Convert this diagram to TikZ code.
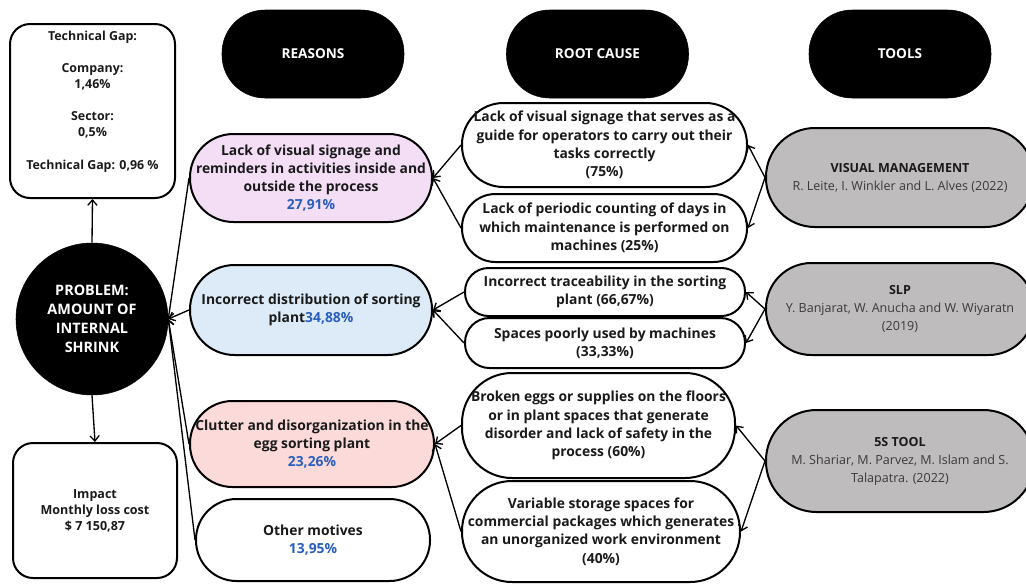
\documentclass[tikz,border=0pt]{standalone}
\usepackage{fontspec}
\setmainfont{Open Sans}
\usetikzlibrary{arrows.meta}
\definecolor{pinkA}{HTML}{F4DEF6}
\definecolor{blueA}{HTML}{DCEBF7}
\definecolor{redA}{HTML}{FCDADA}
\definecolor{grayA}{HTML}{BEBCBC}
\definecolor{pct}{HTML}{2A5EBE}
\definecolor{txt}{HTML}{1A1A1A}
\definecolor{cite}{HTML}{3A3A3A}
\newcommand{\pc}[1]{\textcolor{pct}{#1}}
\begin{document}
\begin{tikzpicture}[x=0.75pt,y=-0.75pt,
  base/.style={draw=black, line width=1.5pt, align=center, inner sep=0pt, text=txt},
  bodyfont/.style={font=\bfseries\fontsize{10.4}{13.7}\selectfont},
  head/.style={fill=black, draw=black, minimum width=182*0.75pt, minimum height=88*0.75pt, rounded corners=43*0.75pt, text=white, font=\bfseries\fontsize{10.2}{11}\selectfont},
  reason/.style={base, bodyfont},
  cause/.style={base, bodyfont},
  tool/.style={base, fill=grayA, font=\fontsize{9.4}{13.5}\selectfont, text=cite},
  conn/.style={line width=1pt, -{Straight Barb[length=4pt,width=7pt]}}]
\useasboundingbox (0,0) rectangle (1026,583);

% left column
\node[base, minimum width=165*0.75pt, minimum height=174*0.75pt, rounded corners=20*0.75pt] (gap) at (92.5,111) {};
\node[align=center, text=txt, font=\bfseries\fontsize{9.3}{12.1}\selectfont] (gaptext) at (92.5,101.5)
  {Technical Gap:\\[12.1pt]Company:\\1,46\%\\[12.1pt]Sector:\\0,5\%\\[12.1pt]Technical Gap: 0,96 \%};
\node[circle, fill=black, draw=black, minimum size=152*0.75pt, inner sep=0pt, align=center, text=white,
  font=\bfseries\fontsize{10.8}{14.3}\selectfont] (prob) at (92,319) {PROBLEM:\\AMOUNT OF\\INTERNAL\\SHRINK};
\node[base, minimum width=164*0.75pt, minimum height=135*0.75pt, rounded corners=20*0.75pt,
  font=\bfseries\fontsize{9.4}{12.1}\selectfont] (impact) at (95,510.5) {Impact\\Monthly loss cost\\\$ 7 150,87};

\draw[conn] (prob.north) -- (gap.south);
\draw[conn] (prob.south) -- (impact.north);

% headers
\node[head] (hR) at (313,54) {REASONS};
\node[head] (hC) at (597.5,54) {ROOT CAUSE};
\node[head] (hT) at (900,54) {TOOLS};

% reasons
\node[reason, fill=pinkA, minimum width=242*0.75pt, minimum height=88*0.75pt, rounded corners=43.5*0.75pt] (r1) at (311,178)
  {Lack of visual signage and\\reminders in activities inside and\\outside the process\\\pc{27,91\%}};
\node[reason, fill=blueA, minimum width=242*0.75pt, minimum height=90*0.75pt, rounded corners=44.5*0.75pt] (r2) at (311,310)
  {Incorrect distribution of sorting\\plant\pc{34,88\%}};
\node[reason, fill=redA, minimum width=244*0.75pt, minimum height=86*0.75pt, rounded corners=42.5*0.75pt] (r3) at (312,444)
  {Clutter and disorganization in the\\egg sorting plant\\\pc{23,26\%}};
\node[reason, fill=white, minimum width=234*0.75pt, minimum height=82*0.75pt, rounded corners=40.5*0.75pt] (r4) at (313,540)
  {Other motives\\\pc{13,95\%}};

% root causes
\node[cause, minimum width=285*0.75pt, minimum height=84*0.75pt, rounded corners=41.5*0.75pt] (c1) at (604.5,145)
  {Lack of visual signage that serves as a\\guide for operators to carry out their\\tasks correctly\\(75\%)};
\node[cause, minimum width=285*0.75pt, minimum height=68*0.75pt, rounded corners=33.5*0.75pt] (c2) at (604.5,228)
  {Lack of periodic counting of days in\\which maintenance is performed on\\machines (25\%)};
\node[cause, minimum width=280*0.75pt, minimum height=48*0.75pt, rounded corners=23.5*0.75pt] (c3) at (605,292)
  {Incorrect traceability in the sorting\\plant (66,67\%)};
\node[cause, minimum width=280*0.75pt, minimum height=50*0.75pt, rounded corners=24.5*0.75pt] (c4) at (605,343)
  {Spaces poorly used by machines\\(33,33\%)};
\node[cause, minimum width=273*0.75pt, minimum height=105*0.75pt, rounded corners=50*0.75pt] (c5) at (598.5,425.5)
  {Broken eggs or supplies on the floors\\or in plant spaces that generate\\disorder and lack of safety in the\\process (60\%)};
\node[cause, minimum width=278*0.75pt, minimum height=101*0.75pt, rounded corners=50*0.75pt] (c6) at (601,531.5)
  {Variable storage spaces for\\commercial packages which generates\\an unorganized work environment\\(40\%)};

% tools
\node[tool, minimum width=268*0.75pt, minimum height=99*0.75pt, rounded corners=49*0.75pt] (t1) at (900,177.5)
  {\textbf{\textcolor{txt}{VISUAL MANAGEMENT}}\\R. Leite, I. Winkler and L. Alves (2022)};
\node[tool, minimum width=268*0.75pt, minimum height=92*0.75pt, rounded corners=45.5*0.75pt] (t2) at (900,309)
  {\textbf{\textcolor{txt}{SLP}}\\Y. Banjarat, W. Anucha and W. Wiyaratn\\(2019)};
\node[tool, minimum width=268*0.75pt, minimum height=102*0.75pt, rounded corners=50.5*0.75pt] (t3) at (900,461)
  {\textbf{\textcolor{txt}{5S TOOL}}\\M. Shariar, M. Parvez, M. Islam and S.\\Talapatra. (2022)};

% reasons -> problem
\draw[conn] (r1.west) -- (prob.east);
\draw[conn] (r2.west) -- (prob.east);
\draw[conn] (r3.west) -- (prob.east);
\draw[conn] (r4.west) -- (prob.east);

% causes -> reasons
\draw[conn] (c1.west) -- (r1.east);
\draw[conn] (c2.west) -- (r1.east);
\draw[conn] (c3.west) -- (r2.east);
\draw[conn] (c4.west) -- (r2.east);
\draw[conn] (c5.west) -- (r3.east);
\draw[conn] (c6.west) -- (r3.east);

% tools -> causes
\draw[conn] (t1.west) -- (c1.east);
\draw[conn] (t1.west) -- (c2.east);
\draw[conn] (t2.west) -- (c3.east);
\draw[conn] (t2.west) -- (c4.east);
\draw[conn] (t3.west) -- (c5.east);
\draw[conn] (t3.west) -- (c6.east);
\end{tikzpicture}
\end{document}
